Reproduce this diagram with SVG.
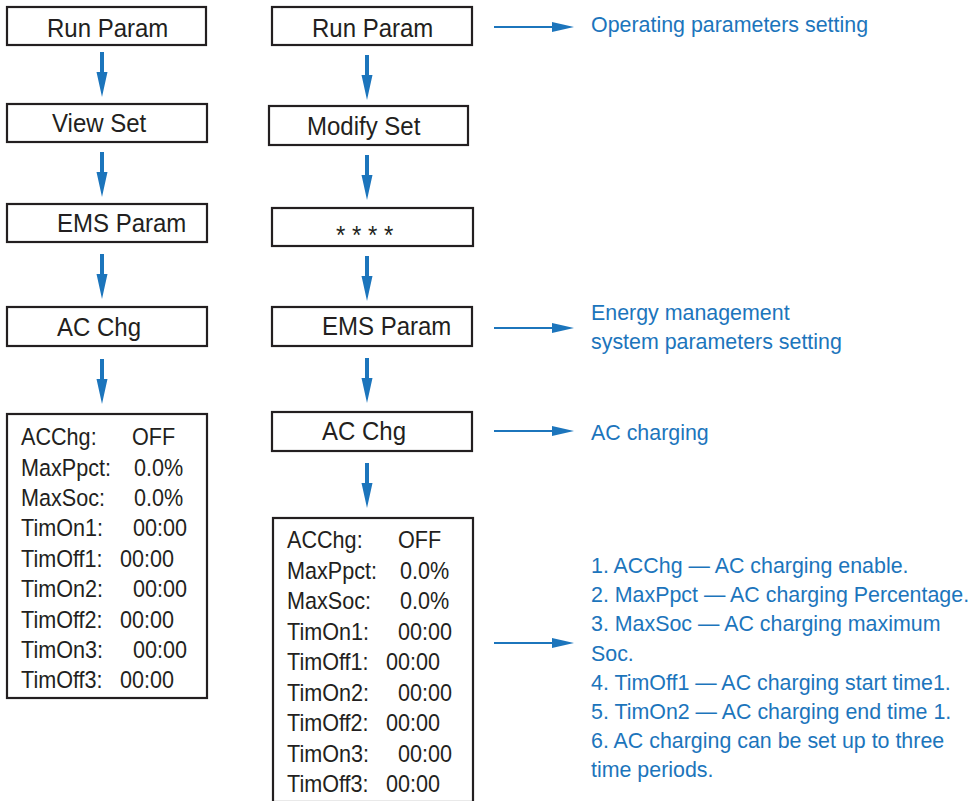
<svg xmlns="http://www.w3.org/2000/svg" width="980" height="801" viewBox="0 0 980 801">
<defs>
<style>
.box{fill:#fff;stroke:#231f20;stroke-width:2.2}
.lbl{font-family:"Liberation Sans",Arial,sans-serif;font-size:25px;fill:#231f20;transform-box:fill-box;transform-origin:0 0;transform:scaleX(0.96)}
.lst{font-family:"Liberation Sans",Arial,sans-serif;font-size:23.5px;fill:#231f20;transform-box:fill-box;transform-origin:0 0;transform:scaleX(0.92)}
.note{font-family:"Liberation Sans",Arial,sans-serif;font-size:21.4px;fill:#1c75bc}
.hl{stroke:#1c75bc;stroke-width:2.2;fill:none;marker-end:url(#ah)}
.down{fill:#1c75bc}
</style>
<marker id="ah" viewBox="0 0 22 10" refX="0" refY="5" markerWidth="22" markerHeight="10" markerUnits="userSpaceOnUse" orient="auto">
<path d="M0,0 L22,5 L0,10 Z" fill="#1c75bc"/>
</marker>
<path id="darrow" d="M-2,0 H2 V20 H5.5 L0,45 L-5.5,20 H-2 Z"/>
</defs>
<rect width="980" height="801" fill="#fff"/>

<g id="connectors">
<use href="#darrow" class="down" x="102" y="52"/>
<use href="#darrow" class="down" x="102" y="152"/>
<use href="#darrow" class="down" x="102" y="254"/>
<use href="#darrow" class="down" x="102" y="359"/>
<use href="#darrow" class="down" x="367" y="55"/>
<use href="#darrow" class="down" x="367" y="155"/>
<use href="#darrow" class="down" x="367" y="256"/>
<use href="#darrow" class="down" x="367" y="358"/>
<use href="#darrow" class="down" x="367" y="463"/>
<line class="hl" x1="494" y1="27" x2="552" y2="27"/>
<line class="hl" x1="494" y1="328" x2="552" y2="328"/>
<line class="hl" x1="494" y1="431" x2="552" y2="431"/>
<line class="hl" x1="494" y1="643" x2="552" y2="643"/>
</g>

<g id="l-run"><rect class="box" x="7" y="7" width="199" height="38"/><text class="lbl" x="47" y="37">Run Param</text></g>
<g id="l-view"><rect class="box" x="7" y="104" width="200" height="38"/><text class="lbl" x="52" y="132">View Set</text></g>
<g id="l-ems"><rect class="box" x="7" y="204" width="200" height="38"/><text class="lbl" x="57" y="232">EMS Param</text></g>
<g id="l-ac"><rect class="box" x="7" y="307" width="200" height="39"/><text class="lbl" x="57" y="336">AC Chg</text></g>
<g id="l-list"><rect class="box" x="7" y="414" width="200" height="284"/>
<text class="lst" x="21" y="445">ACChg:</text><text class="lst" x="132" y="445">OFF</text>
<text class="lst" x="21" y="476">MaxPpct:</text><text class="lst" x="134" y="476">0.0%</text>
<text class="lst" x="21" y="506">MaxSoc:</text><text class="lst" x="134" y="506">0.0%</text>
<text class="lst" x="21" y="536">TimOn1:</text><text class="lst" x="133" y="536">00:00</text>
<text class="lst" x="21" y="567">TimOff1:</text><text class="lst" x="120" y="567">00:00</text>
<text class="lst" x="21" y="597">TimOn2:</text><text class="lst" x="133" y="597">00:00</text>
<text class="lst" x="21" y="628">TimOff2:</text><text class="lst" x="120" y="628">00:00</text>
<text class="lst" x="21" y="658">TimOn3:</text><text class="lst" x="133" y="658">00:00</text>
<text class="lst" x="21" y="688">TimOff3:</text><text class="lst" x="120" y="688">00:00</text>
</g>

<g id="r-run"><rect class="box" x="272" y="7" width="200" height="38"/><text class="lbl" x="312" y="37">Run Param</text></g>
<g id="r-modify"><rect class="box" x="269" y="106" width="199" height="39"/><text class="lbl" x="307" y="135">Modify Set</text></g>
<g id="r-pwd"><rect class="box" x="272" y="208" width="201" height="38"/><text class="lbl" x="336" y="244">* * * *</text></g>
<g id="r-ems"><rect class="box" x="272" y="307" width="200" height="39"/><text class="lbl" x="322" y="335">EMS Param</text></g>
<g id="r-ac"><rect class="box" x="272" y="412" width="200" height="39"/><text class="lbl" x="322" y="440">AC Chg</text></g>
<g id="r-list"><rect class="box" x="273" y="518" width="200" height="284"/>
<text class="lst" x="287" y="548">ACChg:</text><text class="lst" x="398" y="548">OFF</text>
<text class="lst" x="287" y="579">MaxPpct:</text><text class="lst" x="400" y="579">0.0%</text>
<text class="lst" x="287" y="609">MaxSoc:</text><text class="lst" x="400" y="609">0.0%</text>
<text class="lst" x="287" y="640">TimOn1:</text><text class="lst" x="398" y="640">00:00</text>
<text class="lst" x="287" y="670">TimOff1:</text><text class="lst" x="386" y="670">00:00</text>
<text class="lst" x="287" y="701">TimOn2:</text><text class="lst" x="398" y="701">00:00</text>
<text class="lst" x="287" y="731">TimOff2:</text><text class="lst" x="386" y="731">00:00</text>
<text class="lst" x="287" y="762">TimOn3:</text><text class="lst" x="398" y="762">00:00</text>
<text class="lst" x="287" y="792">TimOff3:</text><text class="lst" x="386" y="792">00:00</text>
</g>

<g id="n-operating"><text class="note" x="591" y="32">Operating parameters setting</text></g>
<g id="n-ems"><text class="note" x="591" y="320">Energy management</text><text class="note" x="591" y="349">system parameters setting</text></g>
<g id="n-ac"><text class="note" x="591" y="440">AC charging</text></g>
<g id="n-list">
<text class="note" x="591" y="573">1. ACChg — AC charging enable.</text>
<text class="note" x="591" y="602">2. MaxPpct — AC charging Percentage.</text>
<text class="note" x="591" y="631">3. MaxSoc — AC charging maximum</text>
<text class="note" x="591" y="661">Soc.</text>
<text class="note" x="591" y="690">4. TimOff1 — AC charging start time1.</text>
<text class="note" x="591" y="719">5. TimOn2 — AC charging end time 1.</text>
<text class="note" x="591" y="748">6. AC charging can be set up to three</text>
<text class="note" x="591" y="777">time periods.</text>
</g>
</svg>
